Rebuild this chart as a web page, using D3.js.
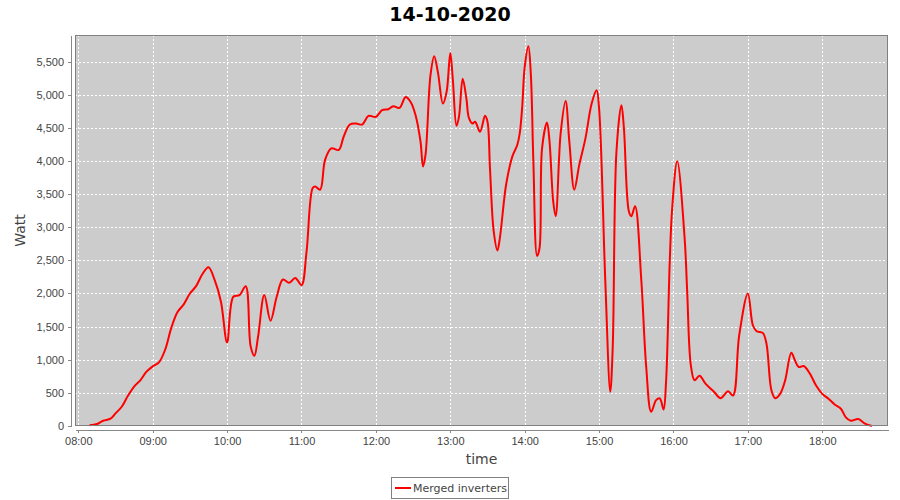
<!DOCTYPE html>
<html lang="en">
  <head>
    <meta charset="UTF-8" />
    <style>
      body {
        margin: 0;
        background: #fff;
      }
      svg {
        font-family: "DejaVu Sans", sans-serif;
      }
      .grid line {
        stroke: #fff;
        stroke-dasharray: 2, 2;
        shape-rendering: crispEdges;
      }
      .axis path,
      .axis line {
        stroke: #888;
        shape-rendering: crispEdges;
      }
      .axis text {
        fill: #444;
        font-size: 11px;
      }
    </style>
    <script src="https://d3js.org/d3.v7.min.js"></script>
    <title>14-10-2020</title>
  </head>
  <body>
    <script>
      // readings (time of day, watts) for the merged inverters
      var times = [
        "08:09", "08:15", "08:20", "08:26", "08:30", "08:35", "08:40", "08:45", "08:50", "08:55",
        "09:00", "09:05", "09:10", "09:15", "09:20", "09:25", "09:30", "09:35", "09:40", "09:45",
        "09:50", "09:55", "10:00", "10:05", "10:10", "10:15", "10:19", "10:22", "10:25", "10:30",
        "10:35", "10:40", "10:45", "10:50", "10:55", "11:00", "11:04", "11:09", "11:11", "11:15",
        "11:19", "11:24", "11:30", "11:34", "11:39", "11:44", "11:49", "11:54", "12:00", "12:05",
        "12:10", "12:14", "12:19", "12:24", "12:28", "12:32", "12:36", "12:38", "12:40", "12:44",
        "12:47", "12:50", "12:54", "12:57", "13:00", "13:02", "13:05", "13:07", "13:10", "13:13",
        "13:15", "13:18", "13:20", "13:24", "13:28", "13:30", "13:32", "13:35", "13:38", "13:40",
        "13:45", "13:50", "13:54", "13:56", "13:58", "14:00", "14:03", "14:05", "14:07", "14:10",
        "14:12", "14:14", "14:18", "14:20", "14:23", "14:25", "14:29", "14:33", "14:36", "14:40",
        "14:44", "14:49", "14:54", "14:58", "15:00", "15:05", "15:09", "15:11", "15:14", "15:18",
        "15:20", "15:24", "15:26", "15:29", "15:34", "15:38", "15:42", "15:46", "15:49", "15:52",
        "15:54", "15:57", "15:59", "16:03", "16:09", "16:11", "16:14", "16:17", "16:21", "16:26",
        "16:33", "16:38", "16:44", "16:48", "16:53", "17:00", "17:04", "17:07", "17:12", "17:15",
        "17:19", "17:22", "17:26", "17:30", "17:35", "17:38", "17:41", "17:45", "17:50", "17:55",
        "18:00", "18:05", "18:10", "18:15", "18:19", "18:23", "18:29", "18:34", "18:40"
      ];
      var watts = [
        10, 30, 80, 110, 190, 290, 455, 595, 690, 820,
        900, 960, 1150, 1480, 1720, 1835, 2000, 2110, 2290, 2395,
        2200, 1880, 1260, 1950, 1975, 2110, 1200, 1060, 1350, 1975,
        1590, 1950, 2210, 2160, 2235, 2125, 2615, 3590, 3615, 3565,
        4015, 4190, 4165, 4365, 4550, 4565, 4550, 4680, 4665, 4765,
        4780, 4825, 4800, 4965, 4890, 4690, 4290, 3915, 4090, 5290,
        5580, 5340, 4865, 5040, 5630, 5240, 4530, 4665, 5240, 4940,
        4650, 4565, 4590, 4440, 4680, 4590, 3890, 2940, 2650, 2840,
        3640, 4065, 4240, 4415, 4815, 5415, 5730, 5290, 3990, 2565,
        2690, 4190, 4580, 4300, 3390, 3165, 4415, 4905, 4290, 3565,
        3940, 4340, 4865, 5065, 4790, 2190, 515, 1190, 4140, 4840,
        4500, 3240, 3165, 3315, 2215, 890, 215, 390, 415, 250,
        665, 2490, 3300, 3995, 2830, 2050, 915, 690, 760, 635,
        510, 420, 525, 460, 1370, 2000, 1520, 1430, 1405, 1240,
        535, 420, 485, 685, 1105, 990, 890, 905, 790, 610,
        485, 410, 325, 260, 130, 80, 105, 40, 0
      ];
      var yTicks = [0, 500, 1000, 1500, 2000, 2500, 3000, 3500, 4000, 4500, 5000, 5500];
      var title = "14-10-2020";
      var seriesName = "Merged inverters";

      var width = 900,
        height = 500;
      var plot = { left: 75, right: 888, top: 35, bottom: 426 };

      function toDate(s) {
        var p = s.split(":");
        return new Date(2020, 9, 14, +p[0], +p[1]);
      }

      var data = times.map(function (t, i) {
        return { t: toDate(t), v: watts[i] };
      });

      var svg = d3
        .select("body")
        .append("svg")
        .attr("width", width)
        .attr("height", height);

      var x = d3
        .scaleTime()
        .domain([new Date(2020, 9, 14, 7, 57, 20), new Date(2020, 9, 14, 18, 53)])
        .range([plot.left, plot.right]);

      var y = d3.scaleLinear().domain([0, 5900]).range([plot.bottom, plot.top]);

      var hourTicks = x.ticks(d3.timeHour.every(1));

      // plot background
      svg
        .append("rect")
        .attr("x", plot.left)
        .attr("y", plot.top)
        .attr("width", plot.right - plot.left)
        .attr("height", plot.bottom - plot.top)
        .attr("fill", "#cccccc");

      // grid lines
      var grid = svg.append("g").attr("class", "grid");
      grid
        .selectAll(".gx")
        .data(hourTicks)
        .enter()
        .append("line")
        .attr("x1", function (d) { return Math.round(x(d)) + 0.5; })
        .attr("x2", function (d) { return Math.round(x(d)) + 0.5; })
        .attr("y1", plot.top)
        .attr("y2", plot.bottom);
      grid
        .selectAll(".gy")
        .data(yTicks)
        .enter()
        .append("line")
        .attr("x1", plot.left)
        .attr("x2", plot.right)
        .attr("y1", function (d) { return Math.round(y(d)) + 0.5; })
        .attr("y2", function (d) { return Math.round(y(d)) + 0.5; });

      // the series
      var line = d3
        .line()
        .x(function (d) { return x(d.t); })
        .y(function (d) { return y(d.v); })
        .curve(d3.curveCatmullRom.alpha(0.5));

      svg
        .append("path")
        .datum(data)
        .attr("fill", "none")
        .attr("stroke", "#ff0000")
        .attr("stroke-width", 2)
        .attr("stroke-linejoin", "round")
        .attr("d", line);

      // plot border
      svg
        .append("rect")
        .attr("x", plot.left + 0.5)
        .attr("y", plot.top + 0.5)
        .attr("width", plot.right - plot.left - 1)
        .attr("height", plot.bottom - plot.top - 1)
        .attr("fill", "none")
        .attr("stroke", "#808080");

      // axes
      svg
        .append("g")
        .attr("class", "axis")
        .attr("transform", "translate(0," + (plot.bottom + 4) + ")")
        .call(
          d3
            .axisBottom(x)
            .tickValues(hourTicks)
            .tickFormat(d3.timeFormat("%H:%M"))
            .tickSize(3)
            .tickSizeOuter(0)
            .tickPadding(4)
        );

      svg
        .append("g")
        .attr("class", "axis")
        .attr("transform", "translate(" + (plot.left - 4) + ",0)")
        .call(
          d3
            .axisLeft(y)
            .tickValues(yTicks)
            .tickFormat(d3.format(","))
            .tickSize(3)
            .tickSizeOuter(0)
            .tickPadding(4)
        );

      // axis labels
      svg
        .append("text")
        .attr("x", (plot.left + plot.right) / 2)
        .attr("y", 464)
        .attr("text-anchor", "middle")
        .attr("fill", "#444")
        .style("font-size", "14px")
        .text("time");

      svg
        .append("text")
        .attr("transform", "translate(25," + (plot.top + plot.bottom) / 2 + ") rotate(-90)")
        .attr("text-anchor", "middle")
        .attr("fill", "#444")
        .style("font-size", "14px")
        .text("Watt");

      // title
      svg
        .append("text")
        .attr("x", width / 2)
        .attr("y", 21)
        .attr("text-anchor", "middle")
        .style("font-size", "19px")
        .style("font-weight", "bold")
        .text(title);

      // legend
      var legend = svg.append("g").attr("transform", "translate(391,477)");
      legend
        .append("rect")
        .attr("x", 0.5)
        .attr("y", 0.5)
        .attr("width", 117)
        .attr("height", 21)
        .attr("fill", "#fff")
        .attr("stroke", "#808080");
      legend
        .append("line")
        .attr("x1", 4)
        .attr("x2", 20)
        .attr("y1", 11)
        .attr("y2", 11)
        .attr("stroke", "#ff0000")
        .attr("stroke-width", 2);
      legend
        .append("text")
        .attr("x", 22)
        .attr("y", 15)
        .attr("fill", "#444")
        .style("font-size", "11px")
        .text(seriesName);
    </script>
  </body>
</html>
